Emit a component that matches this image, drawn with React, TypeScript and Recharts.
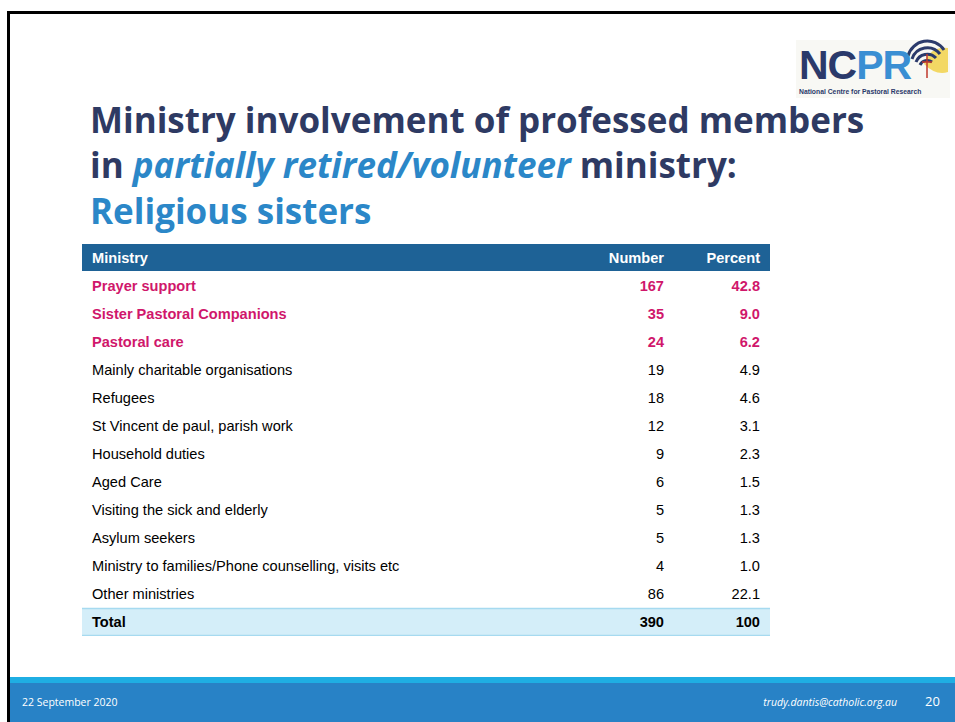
import React from 'react';
import { BarChart, Bar, XAxis, YAxis, LabelList } from 'recharts';

const ministries = [
  'Prayer support',
  'Sister Pastoral Companions',
  'Pastoral care',
  'Mainly charitable organisations',
  'Refugees',
  'St Vincent de paul, parish work',
  'Household duties',
  'Aged Care',
  'Visiting the sick and elderly',
  'Asylum seekers',
  'Ministry to families/Phone counselling, visits etc',
  'Other ministries',
  'Total',
];
const numbers = [167, 35, 24, 19, 18, 12, 9, 6, 5, 5, 4, 86, 390];
const percents = [42.8, 9.0, 6.2, 4.9, 4.6, 3.1, 2.3, 1.5, 1.3, 1.3, 1.0, 22.1, 100];
const headers = ['Ministry', 'Number', 'Percent'];
const highlightedCount = 3;

const data = ministries.map((m, i) => ({ ministry: m, number: numbers[i], percent: percents[i] }));

const PINK = '#d0176b';
const NAVY = '#2e3a63';
const BLUE = '#2b87c8';
const FONT = '"Liberation Sans", Arial, sans-serif';
const TITLE_FONT = '"Open Sans", sans-serif';
const CELL_SIZE = 14.6;

const NAME_LEFT = 10;
const NUM_RIGHT = 582;
const PCT_RIGHT = 678;
const TOTAL_INDEX = ministries.length - 1;

function rowStyle(index: number) {
  if (index < highlightedCount) return { fill: PINK, fontWeight: 700 };
  if (index === TOTAL_INDEX) return { fill: '#000', fontWeight: 700 };
  return { fill: '#000', fontWeight: 400 };
}

const makeCell = (xPos: number, anchor: 'start' | 'end', fmt: (v: any) => string) => (props: any) => {
  const { y, height, index, value } = props;
  const s = rowStyle(index);
  return (
    <text x={xPos} y={y + height / 2} dy="0.35em" fontFamily={FONT} fontSize={CELL_SIZE} fill={s.fill} fontWeight={s.fontWeight} textAnchor={anchor}>
      {fmt(value)}
    </text>
  );
};

const RowBg = (props: any) => {
  const { x, y, width, height, index } = props;
  if (index !== TOTAL_INDEX) return <g />;
  return (
    <g>
      <rect x={x} y={y} width={width} height={height} fill="#d4eef9" />
      <line x1={x} x2={x + width} y1={y + 0.5} y2={y + 0.5} stroke="#a6daf0" strokeWidth={1.5} />
      <line x1={x} x2={x + width} y1={y + height - 0.5} y2={y + height - 0.5} stroke="#a6daf0" strokeWidth={1.5} />
    </g>
  );
};

const Logo = () => (
  <div style={{ position: 'absolute', left: 796, top: 28, width: 154, height: 72 }}>
    <svg width={154} height={72} style={{ position: 'absolute', left: 0, top: 0 }}>
      <rect x={0} y={12} width={154} height={58} fill="#f8f8f4" />
      <path d="M128 36 Q134 18 152 20 L152 44 Q140 48 128 36 Z" fill="#f2d24a" opacity={0.85} />
      <path d="M112 28 A20 20 0 0 1 148 22" stroke="#2b3a6b" strokeWidth={3} fill="none" />
      <path d="M116 31 A16 16 0 0 1 144 26" stroke="#2b3a6b" strokeWidth={3} fill="none" />
      <path d="M120 34 A12 12 0 0 1 140 30" stroke="#2b3a6b" strokeWidth={3} fill="none" />
      <path d="M124 37 A8 8 0 0 1 136 34" stroke="#2b3a6b" strokeWidth={3} fill="none" />
      <line x1={131} y1={26} x2={131} y2={50} stroke="#c0392b" strokeWidth={1.5} />
      <line x1={126} y1={34} x2={136} y2={34} stroke="#c0392b" strokeWidth={1.5} />
      <text x={3} y={51} fontFamily={FONT} fontWeight={700} fontSize={41} letterSpacing={-1}>
        <tspan fill="#2b3a6b">NC</tspan>
        <tspan fill="#3a8fd3">PR</tspan>
      </text>
      <text x={3} y={66.3} fontFamily={FONT} fontWeight={700} fontSize={6.8} fill="#2b3a6b">
        National Centre for Pastoral Research
      </text>
    </svg>
  </div>
);

const titleLine: React.CSSProperties = { position: 'absolute', left: 0, height: 32, lineHeight: '32px', whiteSpace: 'nowrap' };

export default function App() {
  return (
    <div style={{ position: 'absolute', left: 0, top: 0, width: 955, height: 722, overflow: 'hidden', background: '#fff' }}>
      {/* slide border */}
      <div style={{ position: 'absolute', left: 7, top: 11, width: 947, height: 720, borderTop: '3px solid #000', borderLeft: '3px solid #000' }} />

      <Logo />

      {/* title */}
      <div style={{ position: 'absolute', left: 90, top: 103.5, fontFamily: TITLE_FONT, fontWeight: 700, fontSize: 35, color: NAVY }}>
        <div style={{ ...titleLine, top: 0 }}>Ministry involvement of professed members</div>
        <div style={{ ...titleLine, top: 45.5 }}>
          in <span style={{ color: BLUE, fontStyle: 'italic' }}>partially retired/volunteer</span> ministry:
        </div>
        <div style={{ ...titleLine, top: 91, color: BLUE }}>Religious sisters</div>
      </div>

      {/* table header */}
      <div style={{ position: 'absolute', left: 82, top: 244, width: 688, height: 27, background: '#1e6296', fontFamily: FONT, fontWeight: 700, fontSize: CELL_SIZE, color: '#fff' }}>
        <span style={{ position: 'absolute', left: 10, top: 6 }}>{headers[0]}</span>
        <span style={{ position: 'absolute', right: 688 - NUM_RIGHT, top: 6 }}>{headers[1]}</span>
        <span style={{ position: 'absolute', right: 688 - PCT_RIGHT, top: 6 }}>{headers[2]}</span>
      </div>

      {/* table body */}
      <div style={{ position: 'absolute', left: 82, top: 272 }}>
        <BarChart width={688} height={364} data={data} layout="vertical" margin={{ top: 0, right: 0, bottom: 0, left: 0 }} barCategoryGap={0}>
          <XAxis type="number" hide domain={[0, 400]} />
          <YAxis type="category" dataKey="ministry" hide width={0} />
          <Bar dataKey="number" fill="transparent" isAnimationActive={false} background={<RowBg />}>
            <LabelList dataKey="ministry" content={makeCell(NAME_LEFT, 'start', (v) => String(v))} />
            <LabelList dataKey="number" content={makeCell(NUM_RIGHT, 'end', (v) => String(v))} />
            <LabelList dataKey="percent" content={makeCell(PCT_RIGHT, 'end', (v) => (Number(v) === 100 ? '100' : Number(v).toFixed(1)))} />
          </Bar>
        </BarChart>
      </div>

      {/* footer */}
      <div style={{ position: 'absolute', left: 10, top: 677, width: 945, height: 6, background: '#1faee3' }} />
      <div style={{ position: 'absolute', left: 10, top: 683, width: 945, height: 39, background: '#2882c6', fontFamily: TITLE_FONT, color: '#fff' }}>
        <span style={{ position: 'absolute', left: 12, top: 12, fontSize: 10.5 }}>22 September 2020</span>
        <span style={{ position: 'absolute', right: 58, top: 12, fontSize: 10.5, fontStyle: 'italic' }}>trudy.dantis@catholic.org.au</span>
        <span style={{ position: 'absolute', left: 915, top: 9, fontSize: 13 }}>20</span>
      </div>
    </div>
  );
}
